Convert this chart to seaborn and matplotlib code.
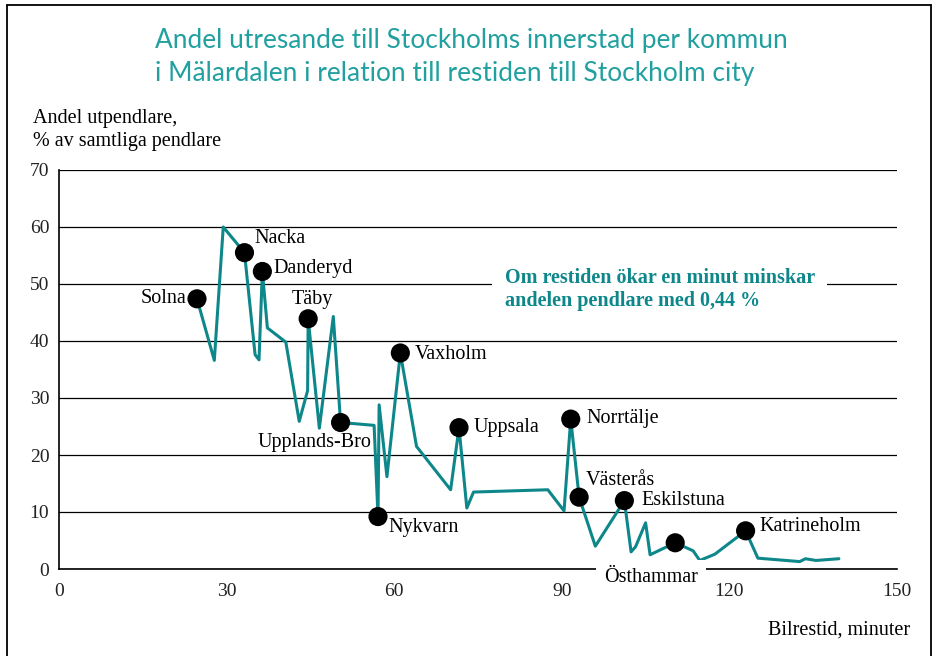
import matplotlib
matplotlib.use("Agg")
import matplotlib.pyplot as plt
from matplotlib.lines import Line2D
import seaborn as sns
import pandas as pd

# ---- data ----
restid = [24.7, 27.8, 29.4, 33.2, 35.1, 35.8, 36.4, 37.3, 40.6, 43.0, 44.5, 44.6,
          46.6, 49.1, 50.4, 56.4, 57.1, 57.3, 58.7, 61.1, 64.0, 70.1, 71.6, 73.0,
          74.2, 87.5, 90.4, 91.6, 93.1, 96.0, 101.2, 102.4, 103.2, 105.0, 105.8,
          110.3, 113.5, 114.7, 117.4, 122.9, 125.1, 132.6, 133.6, 135.5, 139.6]
andel = [47.4, 36.6, 60.0, 55.5, 37.6, 36.7, 52.2, 42.3, 39.8, 25.9, 31.3, 43.9,
         24.7, 44.3, 25.7, 25.2, 9.2, 28.8, 16.2, 37.9, 21.5, 13.9, 24.8, 10.7,
         13.5, 13.9, 10.2, 26.3, 12.6, 4.0, 12.0, 3.0, 3.9, 8.1, 2.5,
         4.6, 3.2, 1.5, 2.6, 6.7, 1.9, 1.3, 1.8, 1.5, 1.8]
kommun = ["Solna", "", "", "Nacka", "", "", "Danderyd", "", "", "", "", "Täby",
          "", "", "Upplands-Bro", "", "Nykvarn", "", "", "Vaxholm", "", "", "Uppsala", "",
          "", "", "", "Norrtälje", "Västerås", "", "Eskilstuna", "", "", "", "",
          "Östhammar", "", "", "", "Katrineholm", "", "", "", "", ""]

x_ticks = [0, 30, 60, 90, 120, 150]
y_ticks = [0, 10, 20, 30, 40, 50, 60, 70]

title = "Andel utresande till Stockholms innerstad per kommun\ni Mälardalen i relation till restiden till Stockholm city"
y_label = "Andel utpendlare,\n% av samtliga pendlare"
x_label = "Bilrestid, minuter"
note = "Om restiden ökar en minut minskar\nandelen pendlare med 0,44 %"

# ---- styling ----
TEAL = "#0e878b"
TITLE_TEAL = "#22a0a0"
SERIF = ["Liberation Serif", "DejaVu Serif"]
FS = 14.5

# label offsets in pixels (dx, dy, ha)
offsets = {
    "Solna": (-11, 0, "right"), "Nacka": (10, 14, "left"), "Danderyd": (11, 3, "left"),
    "Täby": (4, 19, "center"), "Upplands-Bro": (31, -20, "right"), "Vaxholm": (14, -2, "left"),
    "Nykvarn": (10, -11, "left"), "Uppsala": (15, 0, "left"), "Norrtälje": (16, 1, "left"),
    "Västerås": (7, 17, "left"), "Eskilstuna": (17, 0, "left"), "Östhammar": (-24, -35, "center"),
    "Katrineholm": (14, 4, "left"),
}

sns.set_theme(style="white")
plt.rcParams["font.family"] = SERIF

df = pd.DataFrame({"restid": restid, "andel": andel, "kommun": kommun})
named = df[df["kommun"] != ""]

fig = plt.figure(figsize=(9.37, 6.56), dpi=100)
ax = fig.add_axes([59 / 937, 87 / 656, 838 / 937, 399 / 656])

sns.lineplot(data=df, x="restid", y="andel", sort=False, color=TEAL, lw=2.2, ax=ax, zorder=3)
sns.scatterplot(data=named, x="restid", y="andel", color="black", s=190, edgecolor="none",
                ax=ax, zorder=4)

for _, r in named.iterrows():
    dx, dy, ha = offsets[r["kommun"]]
    kw = {}
    if r["kommun"] == "Östhammar":
        kw["bbox"] = dict(facecolor="white", edgecolor="none", pad=6)
    ax.annotate(r["kommun"], (r["restid"], r["andel"]), xytext=(dx, dy),
                textcoords="offset pixels", ha=ha, va="center", fontsize=FS,
                color="black", zorder=6, annotation_clip=False, **kw)

ax.set_xlim(0, 150)
ax.set_ylim(0, 70)
ax.set_xticks(x_ticks)
ax.set_yticks(y_ticks)
ax.set_xlabel("")
ax.set_ylabel("")
ax.grid(axis="y", color="black", lw=0.9)
ax.grid(axis="x", visible=False)
for s in ["top", "right"]:
    ax.spines[s].set_visible(False)
for s in ["left", "bottom"]:
    ax.spines[s].set_color("black")
    ax.spines[s].set_linewidth(1.2)
ax.tick_params(axis="both", colors="black", labelsize=14, direction="out")
ax.tick_params(axis="x", length=4, width=1, pad=6)
ax.tick_params(axis="y", length=3, width=1, pad=4)
for t in ax.get_xticklabels() + ax.get_yticklabels():
    t.set_color("#222222")

ax.text(0.532, 0.70, note, transform=ax.transAxes, ha="left", va="center",
        fontsize=FS, fontweight="bold", color=TEAL, linespacing=1.2, zorder=6,
        bbox=dict(facecolor="white", edgecolor="none", pad=9))

fig.text(155 / 937, 1 - 57 / 656, title, ha="left", va="center", fontsize=18.9,
         color=TITLE_TEAL, family=["Lato", "DejaVu Sans"], fontweight="normal", linespacing=1.38)
fig.text(33 / 937, 1 - 130 / 656, y_label, ha="left", va="center", fontsize=FS,
         color="black", linespacing=1.25)
fig.text(910 / 937, 1 - 630 / 656, x_label, ha="right", va="center", fontsize=FS,
         color="black")

# outer frame (left, top, right)
for xs, ys in [([7 / 937, 7 / 937], [0, 1 - 5 / 656]),
               ([7 / 937, 931 / 937], [1 - 5 / 656, 1 - 5 / 656]),
               ([931 / 937, 931 / 937], [0, 1 - 5 / 656])]:
    fig.add_artist(Line2D(xs, ys, transform=fig.transFigure, color="black", lw=1.3))

fig.savefig("out.png", dpi=100)
